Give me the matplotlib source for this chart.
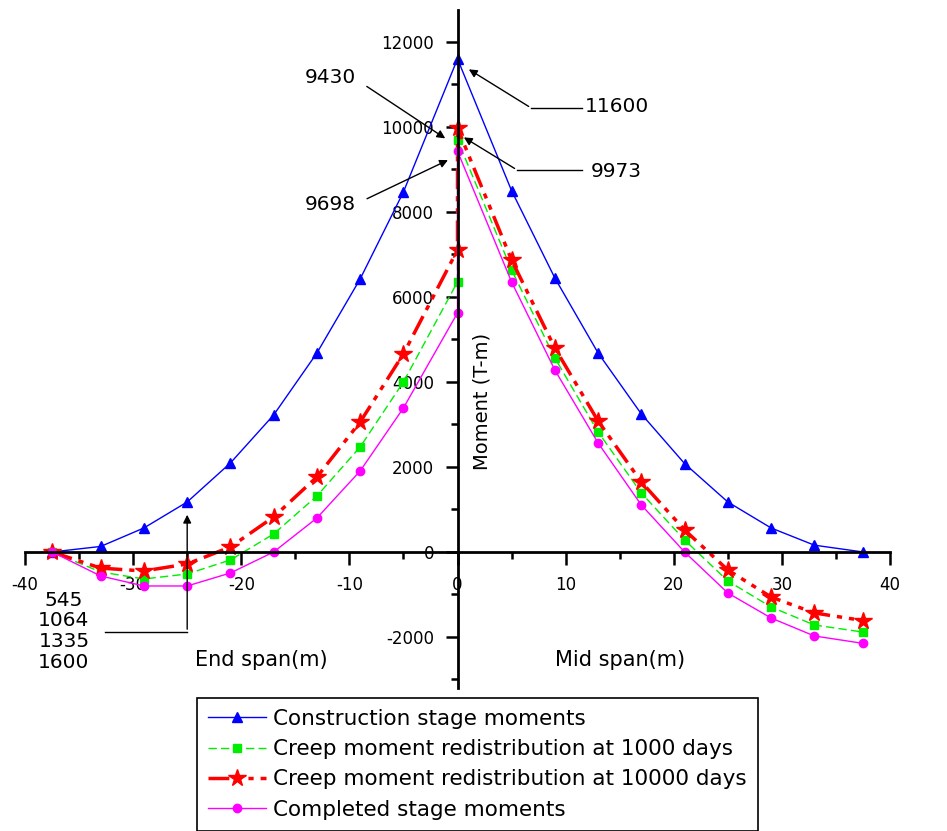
"""
Moment distribution along the bridge: construction stage, creep redistribution
and completed stage moments.
"""

import matplotlib
matplotlib.use('Agg')  # Use non-interactive backend
import matplotlib.pyplot as plt
from matplotlib.ticker import MultipleLocator

plt.rcParams['axes.unicode_minus'] = False

# Span positions (m); creep / completed series have two points at the pier (x = 0)
x_left = [-37.5, -33, -29, -25, -21, -17, -13, -9, -5, 0]
x_right = [0, 5, 9, 13, 17, 21, 25, 29, 33, 37.5]

# Moments (T-m)
construction_left = [0, 130, 565, 1176, 2094, 3224, 4682, 6424, 8470, 11600]
construction_right = [11600, 8500, 6447, 4682, 3247, 2080, 1176, 565, 160, 0]
creep_1000_left = [0, -470, -635, -518, -188, 424, 1318, 2471, 4000, 6353]
creep_1000_right = [9698, 6635, 4565, 2824, 1388, 282, -682, -1294, -1718, -1884]
creep_10000_left = [0, -380, -447, -282, 118, 824, 1765, 3059, 4659, 7106]
creep_10000_right = [9973, 6871, 4800, 3082, 1647, 518, -424, -1059, -1435, -1613]
completed_left = [0, -565, -800, -800, -494, 0, 800, 1906, 3388, 5624]
completed_right = [9430, 6353, 4282, 2565, 1106, 0, -965, -1553, -1976, -2150]

labels = ['Construction stage moments',
          'Creep moment redistribution at 1000 days',
          'Creep moment redistribution at 10000 days',
          'Completed stage moments']

x_ticks = [-40, -30, -20, -10, 0, 10, 20, 30, 40]
y_ticks = [-2000, 0, 2000, 4000, 6000, 8000, 10000, 12000]

fig = plt.figure(figsize=(9.47, 8.31), dpi=100)
ax = fig.add_axes([25 / 947, 143 / 831, 865 / 947, 678 / 831])

x_all = x_left + x_right
blue_x = x_left + x_right[1:]
blue_y = construction_left + construction_right[1:]

ax.plot(blue_x, blue_y, color='#0000ff', lw=1, marker='^', ms=7, label=labels[0])
ax.plot(x_all, creep_1000_left + creep_1000_right, color='#00ee00', lw=1,
        linestyle=(0, (6, 3)), marker='s', ms=6, label=labels[1])
ax.plot(x_all, creep_10000_left + creep_10000_right, color='#ff0000', lw=2.5,
        linestyle=(0, (6, 2, 1.5, 2, 1.5, 2)), marker='*', ms=13, label=labels[2])
ax.plot(x_all, completed_left + completed_right, color='#ff00ff', lw=1,
        marker='o', ms=6, label=labels[3])

# Axes crossing at the origin
ax.set_xlim(-40, 40)
ax.set_ylim(-3200, 12750)
ax.spines['left'].set_position(('data', 0))
ax.spines['bottom'].set_position(('data', 0))
ax.spines['top'].set_visible(False)
ax.spines['right'].set_visible(False)
ax.spines['left'].set_linewidth(2)
ax.spines['bottom'].set_linewidth(2)

ax.set_xticks(x_ticks)
ax.set_yticks(y_ticks)
ax.xaxis.set_minor_locator(MultipleLocator(5))
ax.yaxis.set_minor_locator(MultipleLocator(1000))
ax.tick_params(which='major', direction='out', length=9, width=1.8, labelsize=12, pad=8)
ax.tick_params(which='minor', direction='out', length=5, width=1.8)

ax.text(2.3, 3530, 'Moment (T-m)', rotation=90, ha='center', va='center', fontsize=14)
ax.text(-18.1, -2541, 'End span(m)', ha='center', va='center', fontsize=15)
ax.text(15.0, -2541, 'Mid span(m)', ha='center', va='center', fontsize=15)

arrow = dict(arrowstyle='-|>', color='black', lw=1, mutation_scale=12)

# 11600 (peak, construction stage)
ax.text(14.7, 10470, '11600', ha='center', va='center', fontsize=14.5)
ax.plot([11.5, 6.8], [10447, 10447], color='black', lw=1)
ax.annotate('', xy=(0.83, 11388), xytext=(6.8, 10447), arrowprops=arrow)

# 9973
ax.text(14.7, 8941, '9973', ha='center', va='center', fontsize=14.5)
ax.plot([11.5, 5.5], [8988, 8988], color='black', lw=1)
ax.annotate('', xy=(0.37, 9788), xytext=(5.5, 8988), arrowprops=arrow)

# 9430 and 9698
ax.text(-11.8, 11153, '9430', ha='center', va='center', fontsize=14.5)
ax.annotate('', xy=(-0.92, 9694), xytext=(-8.6, 10988), arrowprops=arrow)
ax.text(-11.8, 8165, '9698', ha='center', va='center', fontsize=14.5)
ax.annotate('', xy=(-0.65, 9247), xytext=(-8.6, 8282), arrowprops=arrow)

# End span values
ax.text(-36.4, -1870, '545\n1064\n1335\n1600', ha='center', va='center',
        fontsize=14.5, linespacing=1.13)
ax.plot([-32.6, -25.0], [-1882, -1882], color='black', lw=1)
ax.annotate('', xy=(-25.0, 941), xytext=(-25.0, -1882), arrowprops=arrow)

leg = fig.legend(loc='upper left', bbox_to_anchor=(197 / 947, 1 - 698 / 831),
                 borderaxespad=0, fontsize=15.5, handlelength=2.7, handletextpad=0.35,
                 borderpad=0.5, labelspacing=0.48, fancybox=False, framealpha=1,
                 edgecolor='black')
leg.get_frame().set_linewidth(1.2)

plt.savefig('out.png', dpi=100)
plt.close()
